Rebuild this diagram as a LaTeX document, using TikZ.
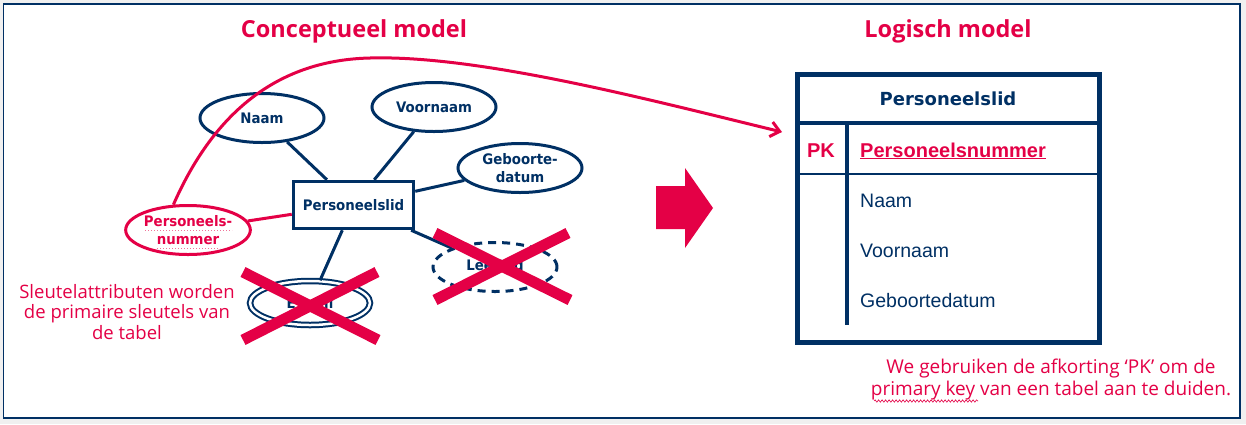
\documentclass[tikz,border=0pt]{standalone}
\usepackage{fontspec}
\usetikzlibrary{shapes.geometric,arrows.meta,decorations.pathmorphing}
\newfontfamily\osans{Open Sans}
\newfontfamily\erf[FakeStretch=0.92]{DejaVu Sans}
\newfontfamily\dvs{DejaVu Sans}
\newfontfamily\arialf{Liberation Sans}
\definecolor{myred}{RGB}{228,0,70}
\definecolor{navy}{RGB}{0,48,100}
\definecolor{bggray}{RGB}{240,240,240}
\tikzset{
  attr/.style={ellipse, draw=navy, line width=3, minimum width=124, minimum height=49, inner sep=0,
    font={\erf\bfseries\fontsize{14.5}{18}\selectfont}, text=navy, align=center},
  ent/.style={draw=navy, line width=3.5, minimum width=120, minimum height=47, inner sep=0,
    font={\erf\bfseries\fontsize{14.5}{18}\selectfont}, text=navy},
  link/.style={navy, line width=3},
  redlink/.style={myred, line width=3},
  crossline/.style={myred, line width=11},
  title/.style={font={\osans\bfseries\fontsize{23.5}{27}\selectfont}, text=myred},
  note/.style={font={\osans\fontsize{18.5}{20.5}\selectfont}, text=myred, align=center},
  tabhead/.style={anchor=base, inner sep=0, font={\dvs\bfseries\fontsize{18}{22}\selectfont}, text=navy},
  tabkey/.style={inner sep=0, font={\arialf\bfseries\fontsize{20}{24}\selectfont}, text=myred},
  tabrow/.style={anchor=base west, inner sep=0, font={\arialf\fontsize{19.5}{23}\selectfont}, text=navy}
}
\begin{document}
\begin{tikzpicture}[x=1pt,y=-1pt]
\fill[bggray] (0,0) rectangle (1246,424);
\useasboundingbox (0,0) rectangle (1246,424);
\draw[navy, line width=1.3, fill=white] (3.5,4) rectangle (1240,418);

% titles
\node[title] (t1) at (354,31) {Conceptueel model};
\node[title] (t2) at (948,31) {Logisch model};

% ER diagram
\node[ent] (pl) at (353.5,205) {Personeelslid};
\node[attr] (naam) at (262,118) {Naam};
\node[attr] (voor) at (434,107) {Voornaam};
\node[attr] (geb) at (520,168) {Geboorte-\\datum};
\node[attr, draw=myred, text=myred] (pn) at (188,230) {Personeels-\\nummer};
\node[attr, line width=2, double=white, double distance=2.5, minimum width=120, minimum height=44] (mail) at (310,303) {E-mail};
\node[attr, dashed, dash pattern=on 8pt off 6pt] (leef) at (495,267) {Leeftijd};

\draw[myred!55, line width=1, dotted] (145,230) -- (232,230);
\draw[myred!55, line width=1, dotted] (157,248) -- (220,248);

\draw[link] (naam) -- (pl);
\draw[link] (voor) -- (pl);
\draw[link] (geb) -- (pl);
\draw[link] (mail) -- (pl);
\draw[link] (leef) -- (pl);
\draw[redlink] (pn) -- (pl);

% crosses
\draw[crossline] (243,272) -- (378,340);
\draw[crossline] (377,272) -- (243,340);
\draw[crossline] (435,233) -- (570,300);
\draw[crossline] (568,233) -- (435,300);

% curved arrow
\coordinate (arrowend) at (782,132);
\draw[redlink, -{Straight Barb[length=9pt,width=15pt,line width=3pt]}]
  (pn.120) .. controls (215,110) and (280,60) .. (370,58)
  .. controls (480,55) and (650,100) .. (arrowend);

% notes
\node[note] (n1) at (127,312) {Sleutelattributen worden\\de primaire sleutels van\\de tabel};
\node[note, font={\osans\fontsize{19}{22}\selectfont}] (n2) at (1051,380) {We gebruiken de afkorting ‘PK’ om de\\primary key van een tabel aan te duiden.};
\draw[myred, line width=0.6, decorate, decoration={snake, amplitude=1.2pt, segment length=3.5pt}] (874,401) -- (978,401);

% block arrow
\fill[myred] (656,186) -- (685,186) -- (685,168) -- (713,208) -- (685,248) -- (685,229) -- (656,229) -- cycle;

% table
\node[draw=navy, line width=5, minimum width=302, minimum height=268, inner sep=0] (tbl) at (948.5,208.5) {};
\draw[navy, line width=4] (797,123) -- (1100,123);
\draw[navy, line width=1.5] (797,174) -- (1100,174);
\draw[navy, line width=4] (847,123) -- (847,325);
\node[tabhead] (th) at (948,105) {Personeelslid};
\node[tabkey, anchor=base] (pk) at (821,157) {PK};
\node[tabkey, anchor=base west] (pnr) at (860,157) {\underline{Personeelsnummer}};
\node[tabrow] (r1) at (860,207) {Naam};
\node[tabrow] (r2) at (860,257) {Voornaam};
\node[tabrow] (r3) at (860,307) {Geboortedatum};
\end{tikzpicture}
\end{document}
